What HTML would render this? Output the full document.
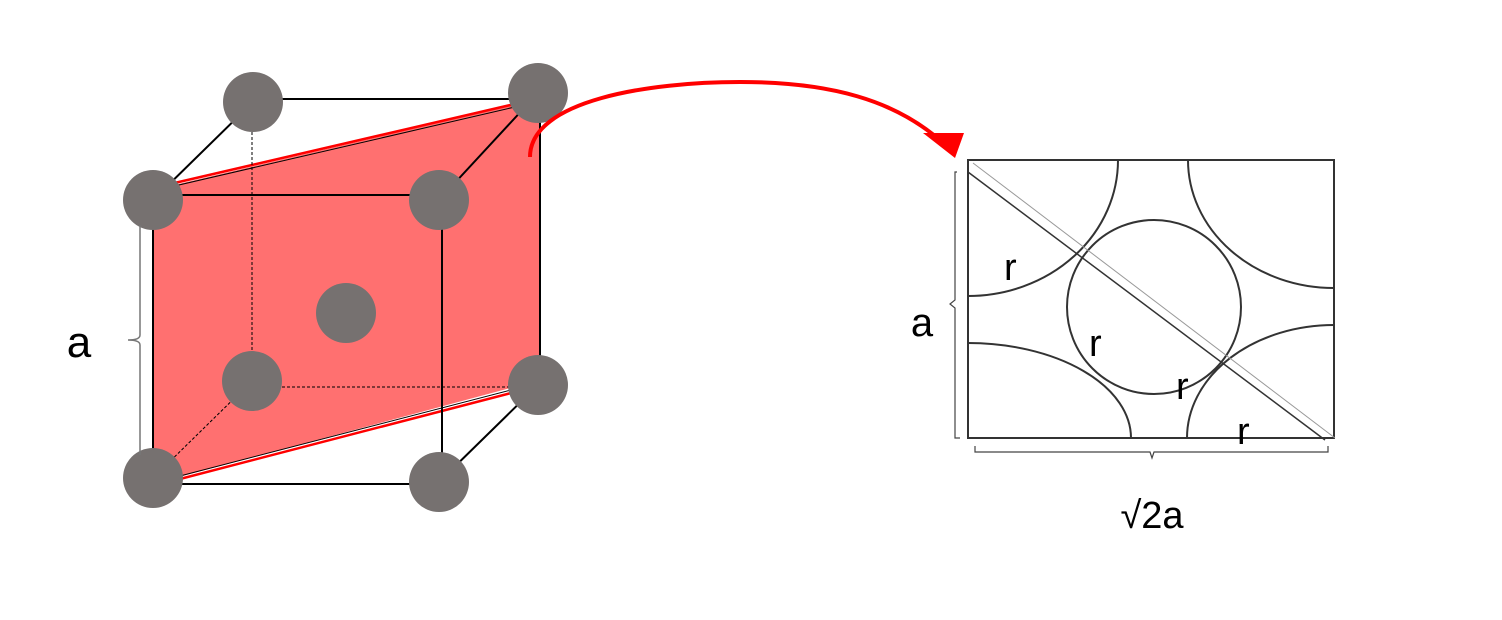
<!DOCTYPE html>
<html><head><style>
html,body{margin:0;padding:0;background:#fff;}
svg{display:block;}
text{font-family:"Liberation Sans",sans-serif;fill:#000;}
</style></head><body>
<svg width="1502" height="620" viewBox="0 0 1502 620" xmlns="http://www.w3.org/2000/svg">
<polygon points="153,190 530,101 540,103 540,380 153,484" fill="#ff7070"/>
<line x1="153" y1="188" x2="532" y2="100" stroke="#f00" stroke-width="2.5"/>
<line x1="153" y1="486" x2="538" y2="386" stroke="#f00" stroke-width="2.5"/>
<line x1="153" y1="191" x2="532" y2="103" stroke="#000" stroke-width="1"/>
<line x1="153" y1="483" x2="538" y2="383" stroke="#000" stroke-width="1"/>
<g stroke="#000" stroke-width="2" fill="none">
<line x1="253" y1="99" x2="538" y2="99"/>
<line x1="153" y1="195" x2="439" y2="195"/>
<line x1="153" y1="200" x2="153" y2="478"/>
<line x1="153" y1="484" x2="439" y2="484"/>
<line x1="442" y1="200" x2="442" y2="482"/>
<line x1="540" y1="93" x2="540" y2="385"/>
<line x1="153" y1="200" x2="253" y2="102"/>
<line x1="439" y1="200" x2="538" y2="93"/>
<line x1="439" y1="482" x2="538" y2="385"/>
</g>
<g stroke="#000" stroke-width="1" stroke-dasharray="3,2" fill="none">
<line x1="252" y1="102" x2="252" y2="381"/>
<line x1="252" y1="387" x2="538" y2="387"/>
<line x1="153" y1="478" x2="252" y2="381"/>
</g>
<g fill="#767170">
<circle cx="253" cy="102" r="30"/>
<circle cx="538" cy="93" r="30"/>
<circle cx="153" cy="200" r="30"/>
<circle cx="439" cy="200" r="30"/>
<circle cx="346" cy="313" r="30"/>
<circle cx="252" cy="381" r="30"/>
<circle cx="538" cy="385" r="30"/>
<circle cx="153" cy="478" r="30"/>
<circle cx="439" cy="482" r="30"/>
</g>
<path d="M140,225 L140,335 Q140,340 128,340 Q140,340 140,345 L140,455" stroke="#777" stroke-width="1.5" fill="none"/>
<text x="79" y="357" font-size="44" text-anchor="middle">a</text>
<path d="M530,157 C530,100 650,82 740,82 C830,82 895,100 942,142" stroke="#f00" stroke-width="4" fill="none"/>
<polygon points="923,133 964,133 955,158" fill="#f00"/>
<g stroke="#333" stroke-width="2" fill="none">
<rect x="968" y="160" width="366" height="278"/>
<path d="M1118,160 A150,136 0 0 1 968,296"/>
<path d="M1188,160 A146,128 0 0 0 1334,288"/>
<path d="M968,343 A163,95 0 0 1 1131,438"/>
<path d="M1334,325 A147,113 0 0 0 1187,438"/>
<circle cx="1154" cy="307" r="87"/>
</g>
<line x1="968" y1="172" x2="1325" y2="440" stroke="#333" stroke-width="1.5"/>
<line x1="973" y1="163" x2="1335" y2="438" stroke="#999" stroke-width="1"/>
<path d="M957,172 L955,172 L955,300 L950,304 L955,308 L955,438 L960,438" stroke="#444" stroke-width="1.2" fill="none"/>
<path d="M975,446 L975,452 L1150,452 L1152,458 L1154,452 L1328,452 L1328,446" stroke="#444" stroke-width="1.2" fill="none"/>
<text x="922" y="336" font-size="40" text-anchor="middle">a</text>
<text x="1152" y="528" font-size="38" text-anchor="middle">√2a</text>
<g font-size="38">
<text x="1004" y="280">r</text>
<text x="1089" y="356">r</text>
<text x="1176" y="399">r</text>
<text x="1237" y="444">r</text>
</g>
</svg>
</body></html>
